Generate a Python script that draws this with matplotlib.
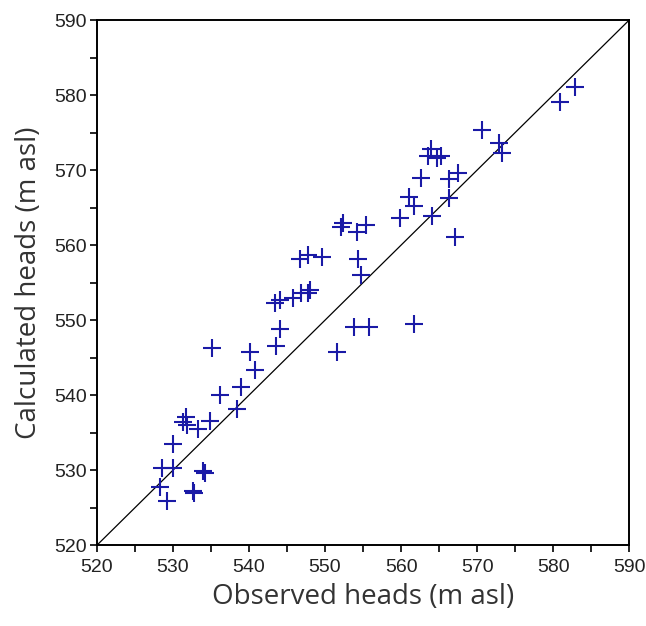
import matplotlib.pyplot as plt
from matplotlib.ticker import MultipleLocator

# observed vs calculated heads (m asl)
observed = [582.9, 580.9, 570.6, 572.9, 573.3, 563.9, 563.6, 564.7, 565.3, 562.6,
            566.3, 567.5, 566.3, 561.0, 561.7, 559.9, 564.1, 567.1, 561.7, 552.1,
            552.4, 554.2, 555.4, 554.4, 554.7, 553.8, 555.8, 551.6, 546.7, 547.8,
            549.6, 543.4, 544.1, 545.8, 546.9, 547.8, 548.0, 544.1, 543.6, 540.1,
            535.1, 540.8, 536.2, 538.9, 538.4, 531.7, 531.3, 531.9, 533.3, 534.9,
            530.0, 528.6, 530.0, 528.3, 529.2, 534.0, 534.2, 532.6, 532.8]
calculated = [581.1, 579.1, 575.4, 573.6, 572.3, 572.8, 571.9, 571.6, 571.9, 568.9,
              568.8, 569.6, 566.3, 566.4, 565.2, 563.6, 563.9, 561.1, 549.5, 562.4,
              562.9, 561.8, 562.7, 558.2, 556.0, 549.1, 549.1, 545.8, 558.2, 558.7,
              558.4, 552.3, 552.7, 552.9, 553.6, 553.6, 554.0, 548.8, 546.6, 545.7,
              546.3, 543.4, 540.0, 541.1, 538.2, 537.1, 536.4, 536.0, 535.5, 536.6,
              533.5, 530.3, 530.3, 527.7, 525.9, 529.9, 529.6, 527.2, 527.0]
lims = [520, 590]

fig = plt.figure(figsize=(6.46, 6.26), dpi=100)
ax = fig.add_axes([0.150, 0.129, 0.824, 0.839])

ax.plot(lims, lims, color='black', lw=0.9)
ax.plot(observed, calculated, linestyle='none', marker='+', markersize=13,
        markeredgewidth=1.5, color='#1a1aa6')

ax.set_xlim(lims)
ax.set_ylim(lims)
ax.xaxis.set_major_locator(MultipleLocator(10))
ax.yaxis.set_major_locator(MultipleLocator(10))
ax.xaxis.set_minor_locator(MultipleLocator(5))
ax.yaxis.set_minor_locator(MultipleLocator(5))
ax.tick_params(which='both', direction='out', length=5, width=1.2, color='black')
ax.tick_params(axis='x', pad=5)
ax.tick_params(axis='y', pad=2)
for lab in ax.get_xticklabels() + ax.get_yticklabels():
    lab.set_family(['Liberation Sans', 'DejaVu Sans'])
    lab.set_fontsize(14)
    lab.set_color('#222222')
for sp in ax.spines.values():
    sp.set_linewidth(1.4)

ax.set_xlabel('Observed heads (m asl)', fontsize=20, family='Open Sans',
              color='#333333', labelpad=5)
ax.set_ylabel('Calculated heads (m asl)', fontsize=20, family='Open Sans',
              color='#333333', labelpad=8)

fig.savefig('out.png', dpi=100)
